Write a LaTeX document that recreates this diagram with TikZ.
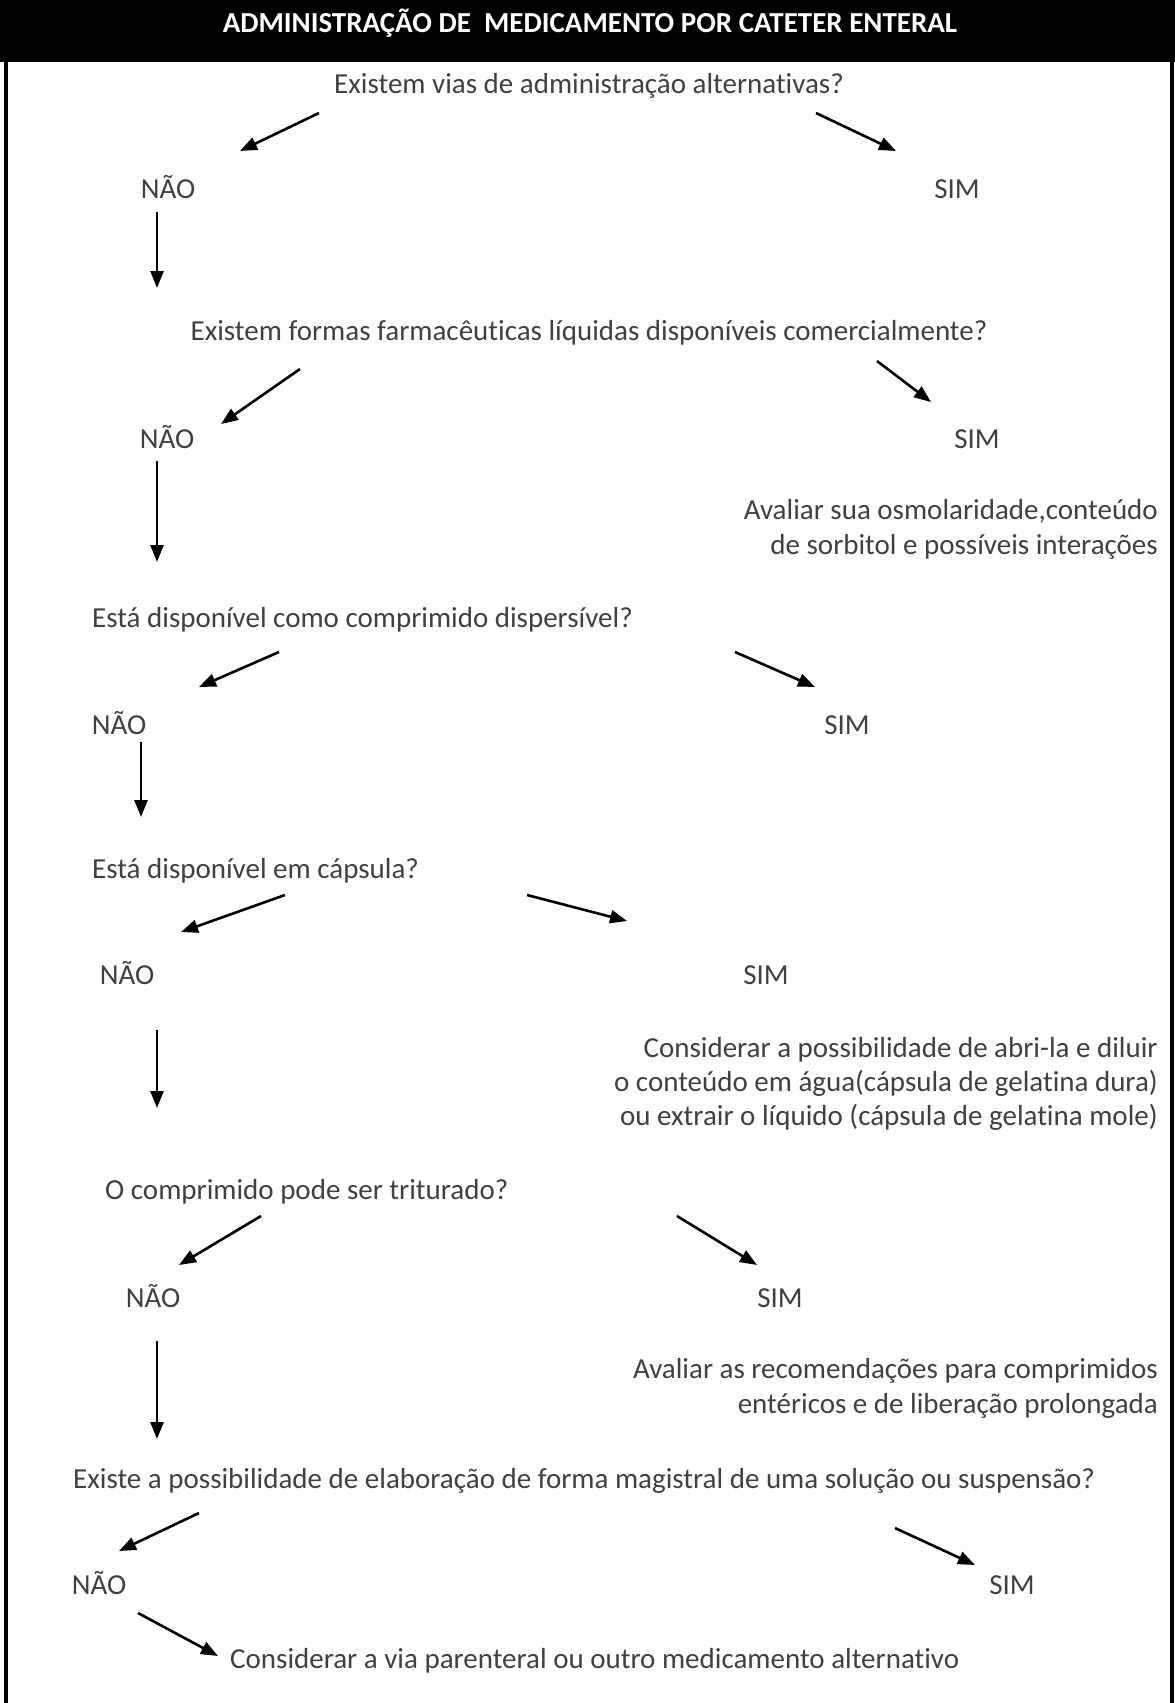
\documentclass[tikz,border=0pt]{standalone}
\usepackage{fontspec}
\setmainfont{Carlito}[Ligatures={NoCommon}]
\usetikzlibrary{arrows.meta}
\definecolor{txt}{HTML}{404040}
\begin{document}
\begin{tikzpicture}[x=1pt,y=-1pt,
  lbl/.style={font=\fontsize{29}{35.4}\selectfont, text=txt, inner sep=0pt},
  qc/.style={lbl, anchor=base},
  ql/.style={lbl, anchor=base west},
  qr/.style={lbl, anchor=base east},
  arr/.style={line width=2.6pt, -{Triangle[length=17pt,width=13pt]}},
  frame/.style={line width=4pt},
]
\useasboundingbox (0,0) rectangle (1175,1703);
\fill[black] (0,0) rectangle (1175,62);
\coordinate (fl1) at (5.5,0); \coordinate (fl2) at (5.5,1703);
\coordinate (fr1) at (1172,0); \coordinate (fr2) at (1172,1703);
\draw[frame] (fl1) -- (fl2);
\draw[frame] (fr1) -- (fr2);
\node[font=\bfseries\fontsize{29}{35}\selectfont, text=white, anchor=base, inner sep=0pt] (title) at (590,32) {ADMINISTRAÇÃO DE\ \ MEDICAMENTO POR CATETER ENTERAL};

% level 1
\node[qc] (q1) at (589,93) {Existem vias de administração alternativas?};
\coordinate (a1Ls) at (319,113); \coordinate (a1Le) at (240,151);
\coordinate (a1Rs) at (816,113); \coordinate (a1Re) at (896,151);
\draw[arr] (a1Ls) -- (a1Le);
\draw[arr] (a1Rs) -- (a1Re);
\node[qc] (n1) at (168,198) {NÃO};
\node[qc] (s1) at (957,198) {SIM};
\coordinate (d1s) at (157,212); \coordinate (d1e) at (157,288);
\draw[arr] (d1s) -- (d1e);

% level 2
\node[qc] (q2) at (589,340) {Existem formas farmacêuticas líquidas disponíveis comercialmente?};
\coordinate (a2Ls) at (300,369); \coordinate (a2Le) at (221,424);
\coordinate (a2Rs) at (877,361); \coordinate (a2Re) at (931,402);
\draw[arr] (a2Ls) -- (a2Le);
\draw[arr] (a2Rs) -- (a2Re);
\node[qc] (n2) at (167,448) {NÃO};
\node[qc] (s2) at (977,448) {SIM};
\node[qr] (t2a) at (1158,519) {Avaliar sua osmolaridade,conteúdo};
\node[qr] (t2b) at (1158,554) {de sorbitol e possíveis interações};
\coordinate (d2s) at (157,461); \coordinate (d2e) at (157,562);
\draw[arr] (d2s) -- (d2e);

% level 3
\node[ql] (q3) at (92,627) {Está disponível como comprimido dispersível?};
\coordinate (a3Ls) at (279,652); \coordinate (a3Le) at (199,687);
\coordinate (a3Rs) at (735,652); \coordinate (a3Re) at (815,687);
\draw[arr] (a3Ls) -- (a3Le);
\draw[arr] (a3Rs) -- (a3Re);
\node[qc] (n3) at (119,734) {NÃO};
\node[qc] (s3) at (847,734) {SIM};
\coordinate (d3s) at (141,742); \coordinate (d3e) at (141,817);
\draw[arr] (d3s) -- (d3e);

% level 4
\node[ql] (q4) at (92,878) {Está disponível em cápsula?};
\coordinate (a4Ls) at (285,895); \coordinate (a4Le) at (181,932);
\coordinate (a4Rs) at (527,895); \coordinate (a4Re) at (627,921);
\draw[arr] (a4Ls) -- (a4Le);
\draw[arr] (a4Rs) -- (a4Re);
\node[qc] (n4) at (127,984) {NÃO};
\node[qc] (s4) at (766,984) {SIM};
\node[qr] (t4a) at (1158,1057) {Considerar a possibilidade de abri-la e diluir};
\node[qr] (t4b) at (1158,1091) {o conteúdo em água(cápsula de gelatina dura)};
\node[qr] (t4c) at (1158,1125) {ou extrair o líquido (cápsula de gelatina mole)};
\coordinate (d4s) at (157,1030); \coordinate (d4e) at (157,1108);
\draw[arr] (d4s) -- (d4e);

% level 5
\node[ql] (q5) at (105,1199) {O comprimido pode ser triturado?};
\coordinate (a5Ls) at (261,1216); \coordinate (a5Le) at (179,1265);
\coordinate (a5Rs) at (677,1216); \coordinate (a5Re) at (757,1265);
\draw[arr] (a5Ls) -- (a5Le);
\draw[arr] (a5Rs) -- (a5Re);
\node[qc] (n5) at (153,1307) {NÃO};
\node[qc] (s5) at (780,1307) {SIM};
\node[qr] (t5a) at (1158,1378) {Avaliar as recomendações para comprimidos};
\node[qr] (t5b) at (1158,1413) {entéricos e de liberação prolongada};
\coordinate (d5s) at (157,1341); \coordinate (d5e) at (157,1439);
\draw[arr] (d5s) -- (d5e);

% level 6
\node[ql] (q6) at (73,1488) {Existe a possibilidade de elaboração de forma magistral de uma solução ou suspensão?};
\coordinate (a6Ls) at (199,1513); \coordinate (a6Le) at (119,1551);
\coordinate (a6Rs) at (895,1528); \coordinate (a6Re) at (975,1565);
\draw[arr] (a6Ls) -- (a6Le);
\draw[arr] (a6Rs) -- (a6Re);
\node[qc] (n6) at (99,1594) {NÃO};
\node[qc] (s6) at (1012,1594) {SIM};
\coordinate (a7s) at (138,1613); \coordinate (a7e) at (218,1656);
\draw[arr] (a7s) -- (a7e);
\node[ql] (fin) at (230,1668) {Considerar a via parenteral ou outro medicamento alternativo};
\end{tikzpicture}
\end{document}
